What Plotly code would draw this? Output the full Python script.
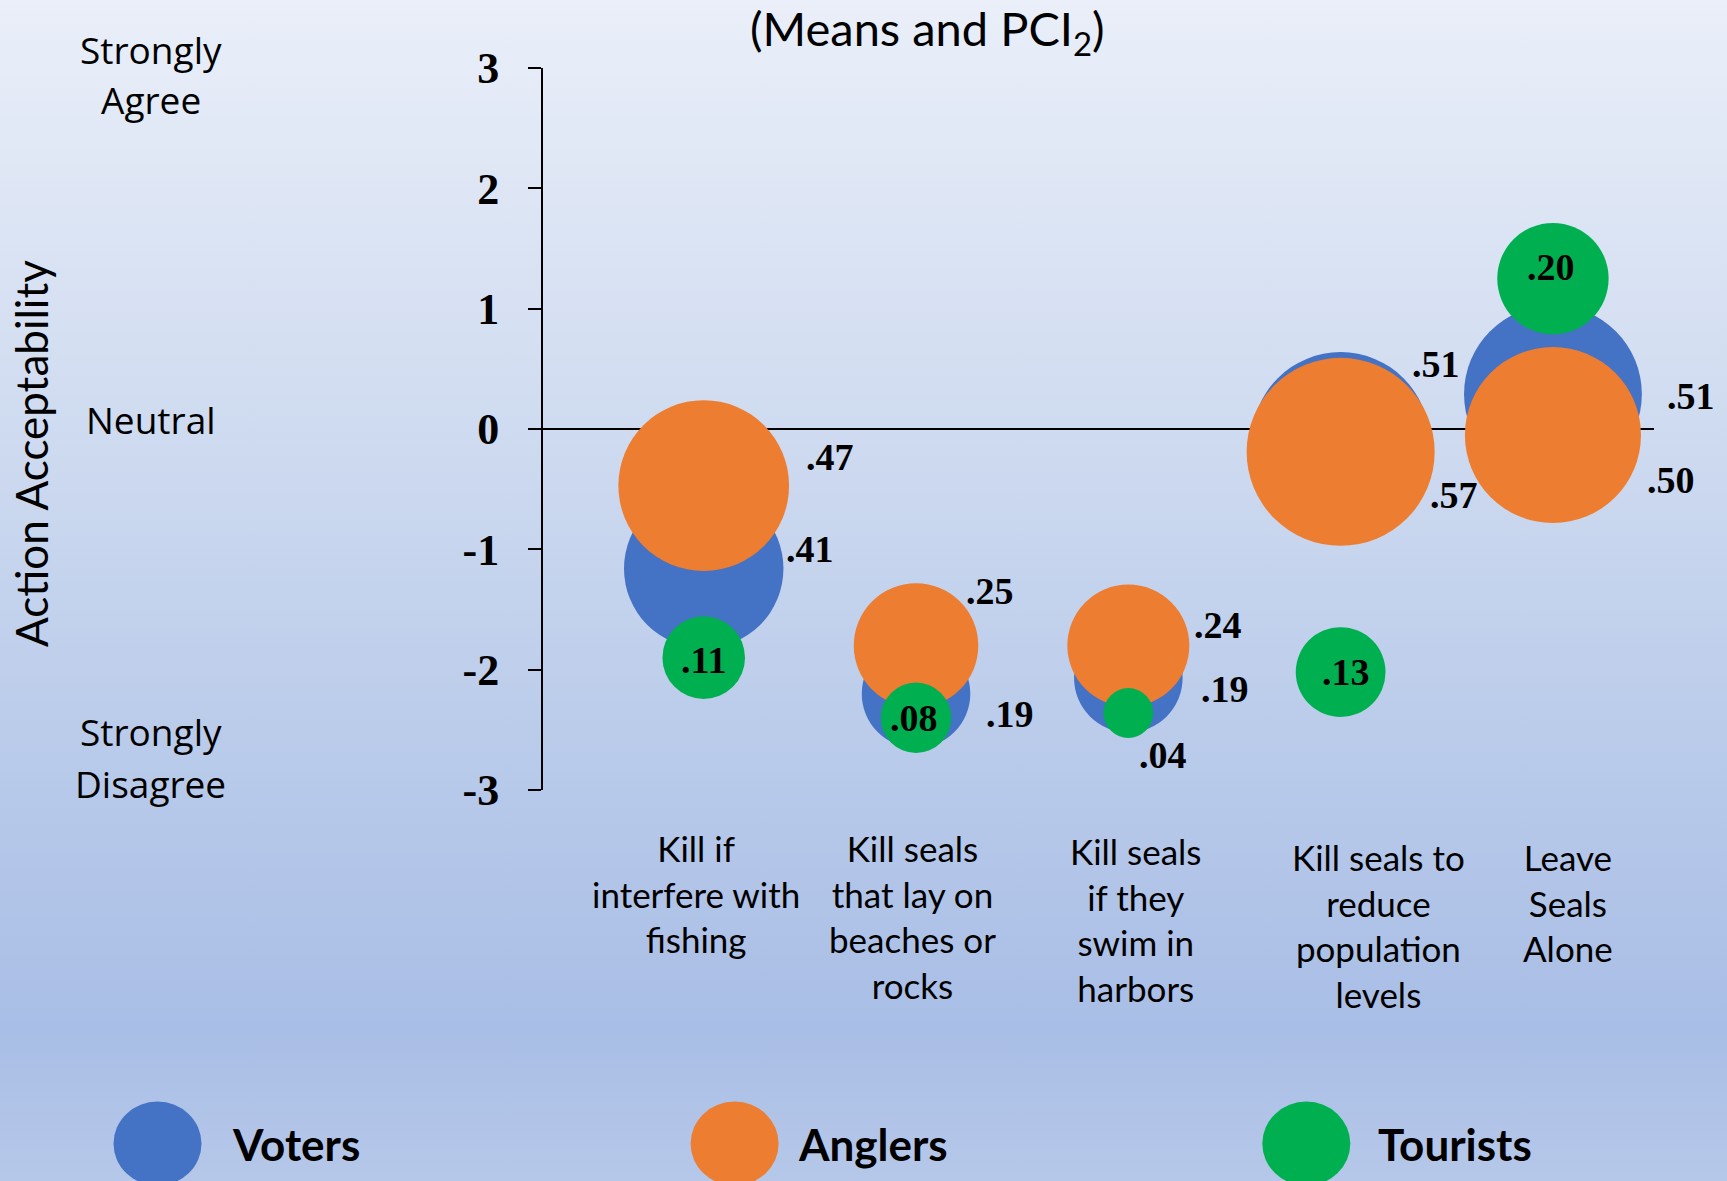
import base64
import plotly.graph_objects as go

# ---------------- data ----------------
categories = ["Kill if interfere with fishing",
              "Kill seals that lay on beaches or rocks",
              "Kill seals if they swim in harbors",
              "Kill seals to reduce population levels",
              "Leave Seals Alone"]
category_labels = ["Kill if<br>interfere with<br>fishing",
                   "Kill seals<br>that lay on<br>beaches or<br>rocks",
                   "Kill seals<br>if they<br>swim in<br>harbors",
                   "Kill seals to<br>reduce<br>population<br>levels",
                   "Leave<br>Seals<br>Alone"]
series_names = ["Voters", "Anglers", "Tourists"]
voters_mean = [-1.16, -2.20, -2.07, -0.10, 0.29]
voters_pci = [0.41, 0.19, 0.19, 0.51, 0.51]
anglers_mean = [-0.47, -1.80, -1.80, -0.19, -0.05]
anglers_pci = [0.47, 0.25, 0.24, 0.57, 0.50]
tourists_mean = [-1.90, -2.40, -2.36, -2.02, 1.25]
tourists_pci = [0.11, 0.08, 0.04, 0.13, 0.20]
y_tick_values = [3, 2, 1, 0, -1, -2, -3]
y_tick_labels = ["3", "2", "1", "0", "-1", "-2", "-3"]
scale_labels = ["Strongly", "Agree", "Neutral", "Strongly", "Disagree"]

# ---------------- styles / layout ----------------
W, H = 1727, 1181
L, R_EDGE, T, B_EDGE = 543, 1654, 68.3, 789.7
colors = {"Voters": "#4472C4", "Anglers": "#ED7D31", "Tourists": "#00B050"}
# label offsets in pixels (xshift, yshift) per series and category
label_offsets = {
    "Voters": [(106, 20), (94, -20), (97, -11), (95, 77), (138, -2)],
    "Anglers": [(126, 29), (74, 55), (90, 21), (113, -43), (118, -45)],
    "Tourists": [(0, -2), (-2, 0), (35, -42), (5, 0), (-2, 12)],
}
cat_label_shift = [(-8, 0), (-4, 0), (8, -3), (38, -9), (15, -9)]
scale_label_py = [50, 100, 420, 731, 783]


def px_x(px):
    return (px - L) / (R_EDGE - L)


def px_y(py):
    return (B_EDGE - py) / (B_EDGE - T)


# bubble diameter 249 px at PCI = 1 (area-proportional)
SIZEREF = 2.0 / (249.0 ** 2)

series = {
    "Voters": (voters_mean, voters_pci),
    "Anglers": (anglers_mean, anglers_pci),
    "Tourists": (tourists_mean, tourists_pci),
}

fig = go.Figure()
for name in series_names:
    means, pcis = series[name]
    fig.add_trace(go.Scatter(
        x=categories, y=means, mode="markers", name=name,
        marker=dict(size=pcis, sizemode="area", sizeref=SIZEREF,
                    color=colors[name], opacity=1, line=dict(width=0)),
        cliponaxis=False, showlegend=False, hoverinfo="skip"))

annotations = []
value_font = dict(family="Liberation Serif", size=38, color="black")
for name in series_names:
    means, pcis = series[name]
    for i, cat in enumerate(categories):
        dx, dy = label_offsets[name][i]
        annotations.append(dict(
            x=cat, y=means[i], xref="x", yref="y", showarrow=False,
            text="<b>" + f"{pcis[i]:.2f}".lstrip("0") + "</b>",
            xshift=dx, yshift=dy, font=value_font,
            xanchor="center", yanchor="middle"))

# category labels
for i, cat in enumerate(categories):
    dx, dy = cat_label_shift[i]
    annotations.append(dict(
        x=cat, y=px_y(825), xref="x", yref="paper", showarrow=False,
        text=category_labels[i], xanchor="center", yanchor="top",
        xshift=dx, yshift=dy, align="center",
        font=dict(family="Lato", size=35, color="black")))

# scale labels on the left
for text, py in zip(scale_labels, scale_label_py):
    annotations.append(dict(
        x=px_x(151), y=px_y(py), xref="paper", yref="paper", showarrow=False,
        text=text, xanchor="center", yanchor="middle",
        font=dict(family="Open Sans", size=37, color="black")))

# y axis title
annotations.append(dict(
    x=px_x(31), y=px_y(454), xref="paper", yref="paper", showarrow=False,
    text="Action Acceptability", textangle=-90, xanchor="center", yanchor="middle",
    font=dict(family="Lato", size=44, color="black")))

# title
annotations.append(dict(
    x=px_x(927), y=px_y(32), xref="paper", yref="paper", showarrow=False,
    text="(Means and PCI<sub>2</sub>)", xanchor="center", yanchor="middle",
    font=dict(family="Lato", size=47, color="black")))

# custom legend
shapes = []
legend_pos = {"Voters": (157.5, 230), "Anglers": (734.6, 796), "Tourists": (1306.3, 1375.6)}
for name in series_names:
    cx, tx = legend_pos[name]
    shapes.append(dict(
        type="circle", xref="paper", yref="paper",
        xsizemode="pixel", ysizemode="pixel",
        xanchor=px_x(cx), yanchor=px_y(1143),
        x0=-44, x1=44, y0=-42, y1=42,
        fillcolor=colors[name], line=dict(width=0), layer="above"))
    annotations.append(dict(
        x=px_x(tx), y=px_y(1143), xref="paper", yref="paper", showarrow=False,
        text="<b>" + name + "</b>", xanchor="left", yanchor="middle",
        font=dict(family="Lato", size=44, color="black")))

# background gradient image
svg = ('<svg xmlns="http://www.w3.org/2000/svg" width="100" height="100" preserveAspectRatio="none">'
       '<defs><linearGradient id="g" x1="0" y1="0" x2="0" y2="1">'
       '<stop offset="0" stop-color="#EAEFF9"/>'
       '<stop offset="0.36" stop-color="#CFDBF0"/>'
       '<stop offset="0.6" stop-color="#BCCDEB"/>'
       '<stop offset="0.87" stop-color="#A9BEE6"/>'
       '<stop offset="1" stop-color="#B6C8E9"/>'
       '</linearGradient></defs><rect width="100" height="100" fill="url(#g)"/></svg>')
bg_uri = "data:image/svg+xml;base64," + base64.b64encode(svg.encode()).decode()

fig.update_layout(
    width=W, height=H,
    margin=dict(l=L, r=W - R_EDGE, t=T, b=H - B_EDGE, pad=0),
    paper_bgcolor="#C9D6EE", plot_bgcolor="rgba(0,0,0,0)",
    showlegend=False,
    annotations=annotations, shapes=shapes,
    images=[dict(source=bg_uri, xref="paper", yref="paper",
                 x=px_x(0), y=px_y(0), sizex=px_x(W) - px_x(0), sizey=px_y(0) - px_y(H),
                 xanchor="left", yanchor="top", sizing="stretch", layer="below")],
    xaxis=dict(type="category", range=[-0.757, 4.476], showgrid=False, zeroline=False,
               showline=False, showticklabels=False, ticks=""),
    yaxis=dict(range=[-3, 3], tickvals=y_tick_values, ticktext=y_tick_labels,
               showgrid=False, zeroline=True, zerolinecolor="black", zerolinewidth=2,
               showline=True, linecolor="black", linewidth=2,
               ticks="outside", ticklen=13, tickwidth=2, tickcolor="black",
               ticklabelstandoff=20,
               tickfont=dict(family="Liberation Serif", size=44, color="black", weight="bold")),
)

fig.write_html("out.html", config={"displayModeBar": False},
               post_script="document.body.style.margin='0px';")
